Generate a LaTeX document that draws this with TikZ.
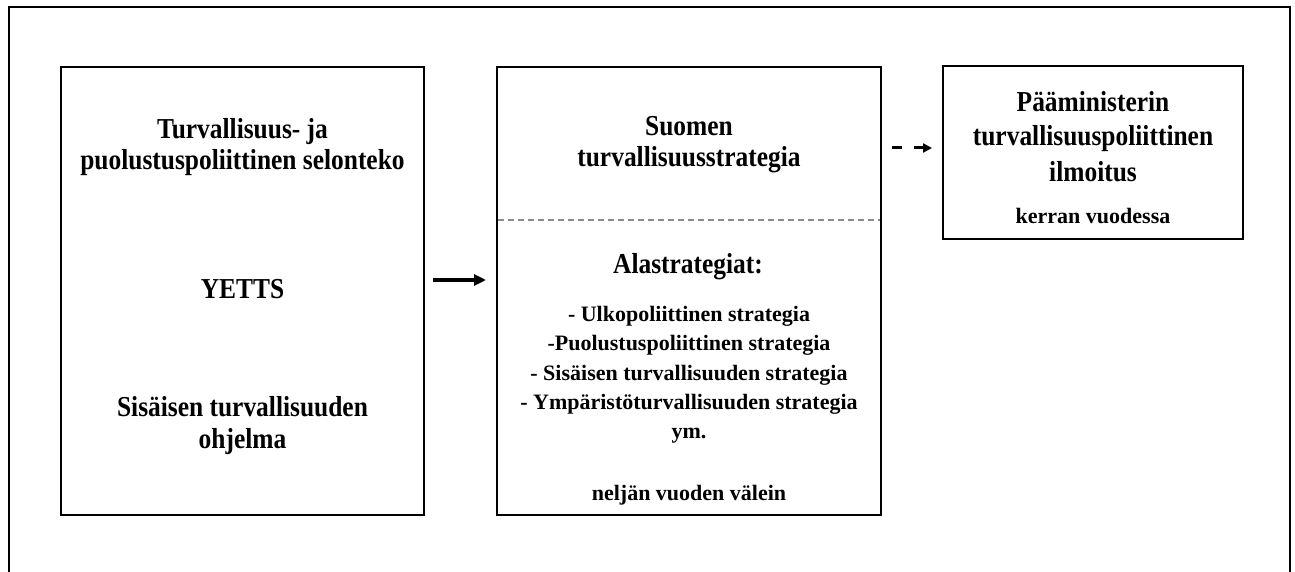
\documentclass[tikz,border=0pt]{standalone}
\usepackage{fontspec}
\setmainfont{Liberation Serif}
\newfontfamily\bigf[FakeStretch=0.88]{Liberation Serif}
\usetikzlibrary{arrows.meta}
\begin{document}
\begin{tikzpicture}[x=1pt,y=-1pt,
  frame/.style={line width=2pt, draw=black},
  box/.style={draw=black, line width=2pt, rectangle, inner sep=0pt, outer sep=0pt, anchor=north west},
  big/.style={anchor=base, inner sep=0pt, font=\bigf\bfseries\fontsize{28.9}{31}\selectfont},
  small/.style={anchor=base, inner sep=0pt, font=\bfseries\fontsize{22}{29}\selectfont},
  arr/.style={line width=3.5pt, -{Triangle[length=12pt,width=11pt]}},
  darr/.style={line width=3pt, dash pattern=on 10pt off 12pt, -{Triangle[length=9pt,width=9pt]}},
  sep/.style={draw=black!45, line width=1.5pt, dash pattern=on 6pt off 4pt}]
\useasboundingbox (0,0) rectangle (1295,572);
\draw[frame] (9,574) -- (9,7) -- (1290,7) -- (1290,574);

\node[box, minimum width=363pt, minimum height=448pt] (b1) at (61,67) {};
\node[box, minimum width=384pt, minimum height=448pt] (b2) at (497,67) {};
\node[box, minimum width=300pt, minimum height=173pt] (b3) at (943,66) {};

% box 1
\node[big] (t11) at (242.5,139) {Turvallisuus- ja};
\node[big] (t12) at (242.5,170) {puolustuspoliittinen selonteko};
\node[big] (t13) at (242.5,298) {YETTS};
\node[big] (t14) at (242.5,416) {Sisäisen turvallisuuden};
\node[big] (t15) at (242.5,448) {ohjelma};

% box 2
\node[big] (t21) at (689,136) {Suomen};
\node[big] (t22) at (689,167) {turvallisuusstrategia};
\node[big] (t23) at (688,273) {Alastrategiat:};
\node[small] (t24) at (689,321.5) {- Ulkopoliittinen strategia};
\node[small] (t25) at (689,350) {-Puolustuspoliittinen strategia};
\node[small] (t26) at (689,380) {- Sisäisen turvallisuuden strategia};
\node[small] (t27) at (689,409) {- Ympäristöturvallisuuden strategia};
\node[small] (t28) at (689,438) {ym.};
\node[small] (t29) at (689,500) {neljän vuoden välein};

% box 3
\node[big] (t31) at (1093,111.5) {Pääministerin};
\node[big] (t32) at (1093,146) {turvallisuuspoliittinen};
\node[big] (t33) at (1093,181.5) {ilmoitus};
\node[small] (t34) at (1093,223) {kerran vuodessa};

% separator in box 2
\draw[sep, shorten <=1pt, shorten >=1pt] ([yshift=71pt]b2.west) -- ([yshift=71pt]b2.east);

% arrows
\draw[arr, shorten <=9pt, shorten >=11pt] ([yshift=11pt]b1.east) -- ([yshift=11pt]b2.west);
\coordinate (d1) at ([yshift=4.5pt]b3.west);
\draw[darr, shorten <=11pt, shorten >=11pt] (d1 -| b2.east) -- (d1);
\end{tikzpicture}
\end{document}
